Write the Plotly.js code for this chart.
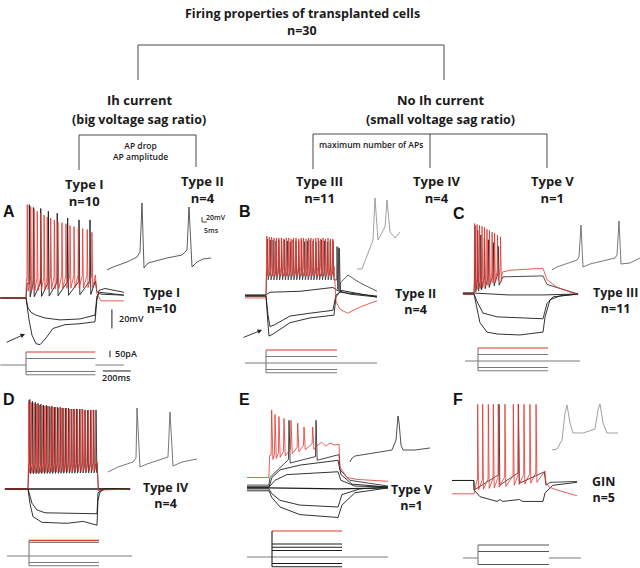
<!DOCTYPE html>
<html><head><meta charset="utf-8">
<script src="https://cdn.plot.ly/plotly-3.0.1.min.js"></script>
<style>html,body{margin:0;padding:0;background:#fff}#chart{width:640px;height:568px}</style>
</head><body><div id="chart"></div>
<script>
// ================= DATA =================
// --- decision tree ---
const treeTitle = "Firing properties of transplanted cells";
const totalN = 30;
const groupNames = ["Ih current", "No Ih current"];
const groupNotes = ["(big voltage sag ratio)", "(small voltage sag ratio)"];
const splitCriteria = ["AP drop<br>AP amplitude", "maximum number of APs"];
const typeNames = ["Type I", "Type II", "Type III", "Type IV", "Type V"];
const typeCounts = [10, 4, 11, 4, 1];
const typeGroup = [0, 0, 1, 1, 1];
// --- panels ---
const panelLetters = ["A", "B", "C", "D", "E", "F"];
const panelTypes = ["Type I", "Type II", "Type III", "Type IV", "Type V", "GIN"];
const panelN = [10, 4, 11, 4, 1, 5];
const stepMs = 500;
const scaleMV = 20, scaleMS = 200, scalePA = 50, insetMV = 20, insetMS = 5;

// Panel A (time ms, voltage mV)
const A_red_spT = [9,34,58,81,106,130,153,178,204,230,259,288,317,346,377,408,441,475];
const A_red_spV = [38,36,34,31,29,27,25,24,22,20,19,18,16,15,14,13,12,9];
const A_red_bgT = [-185,0,3,250,500,510,540,705];
const A_red_bgV = [-60,-60,-40,-37,-36,-55,-63,-63];
const A_blk_spT = [24,53,106,161,225,300,382,461];
const A_blk_spV = [38,35,34,31,29,24,22,22];
const A_blk_bgT = [-185,0,8,500,510,540,705];
const A_blk_bgV = [-60,-60,-45,-42,-53,-56,-57];
const A_hyp1_t = [-185,0,14,36,72,137,245,389,497,511,533,605,705];
const A_hyp1_v = [-60,-60,-70,-75,-78,-81,-83,-82,-78,-58,-54,-55,-57];
const A_hyp2_t = [-185,0,22,43,72,101,144,194,281,389,497,511,526,569,705];
const A_hyp2_v = [-60,-60,-83,-99,-108,-109,-102,-92,-88,-87,-85,-62,-52,-50,-54];
const A_ins_t = [0,6,20,30,33,35,37,41,60,75,80,82,85,90,96,104];
const A_ins_v = [-60,-48,-28,-8,12,208,-52,-32,-12,0,20,192,-48,-28,-16,-12];
const A_cur_red = [100], A_cur_gray = [50,-50,-75];

// Panel B
const B_red_spT = [6,24,41,59,77,95,113,131,149,167,185,203,221,240,258,276,294,312,330,348,366,384,402,420,438,456,474,491];
const B_red_spV = [4,3,3,2,2,2,2,1,2,2,1,2,2,1,2,2,1,2,2,1,2,2,1,2,1,2,1,1];
const B_red_bgT = [-154,0,3,500,515,545,600,700,816];
const B_red_bgV = [-61,-61,-28,-28,-65,-73,-77,-70,-64];
const B_blk_spT = [10,31,52,73,94,115,136,157,178,199,220,241,262,283,304,325,346,367,388,409,430,451,472,493,522,531,540];
const B_blk_spV = [1,0,0,-1,0,-1,0,-1,-2,0,-1,-1,0,-2,-1,0,-1,-2,-1,0,-1,-2,-1,-1,-7,-8,-9];
const B_blk_bgT = [-154,0,5,500,518,548,603,690,816];
const B_blk_bgV = [-58,-58,-33,-33,-42,-45,-37,-45,-54];
const B_zero_t = [-154,0,29,250,492,522,617,816];
const B_zero_v = [-58,-58,-55,-54,-50,-53,-57,-60];
const B_hyp1_t = [-154,0,15,29,66,176,323,492,514,544,816];
const B_hyp1_v = [-59,-59,-79,-91,-89,-80,-77,-74,-58,-55,-59];
const B_hyp2_t = [-154,0,15,22,51,176,323,500,514,551,816];
const B_hyp2_v = [-59,-59,-89,-101,-99,-87,-82,-79,-60,-53,-60];
const B_ins_t = [0,5,16,18,21,28,30,33,38,43];
const B_ins_v = [-60,-60,56,224,56,108,216,88,64,88];
const B_cur_red = [100], B_cur_gray = [50,-50,-75];

// Panel C
const C_red_spT = [4,22,40,58,76,94,112,131,149,170,192];
const C_red_spV = [14,13,12,11,10,8,7,5,4,2,0];
const C_red_bgT = [-80,0,3,100,192,205,261,500,529,602,754];
const C_red_bgV = [-60,-60,-45,-39,-33,-37,-35,-33,-45,-53,-61];
const C_blk_spT = [7,27,49,75,104,140,176];
const C_blk_spV = [12,7,2,-1,-3,-6,-10];
const C_blk_bgT = [-80,0,4,176,210,500,529,754];
const C_blk_bgV = [-59,-59,-46,-38,-42,-41,-50,-60];
const C_zero_t = [-80,0,250,500,754];
const C_zero_v = [-59,-59,-61,-61,-60];
const C_hyp1_t = [-80,0,22,65,167,500,529,573,754];
const C_hyp1_v = [-60,-60,-68,-80,-84,-86,-70,-63,-60];
const C_hyp2_t = [-80,0,43,94,167,333,500,515,551,624,754];
const C_hyp2_v = [-60,-60,-90,-100,-102,-103,-100,-84,-66,-62,-60];
const C_ins_t = [0,5,25,27,29,31,38,63,65,67,69,78,88];
const C_ins_v = [-60,-48,-20,-8,120,-48,-36,-12,0,136,-36,-32,-12];
const C_cur_red = [100], C_cur_gray = [50,-50,-75];

// Panel D
const D_red_spT = [5,24,44,63,83,102,122,141,161,181,200,220,240,259,279,299,318,338,358,378,397,417,437,457,477];
const D_red_spV = [33,31,30,29,28,28,27,27,26,26,26,25,25,25,25,24,24,24,24,24,23,23,23,23,23];
const D_red_bgT = [-167,0,3,500,510,540,740];
const D_red_bgV = [-60,-60,-33,-31,-62,-61,-60];
const D_blk_spT = [13,33,53,73,93,113,133,153,173,193,213,233,253,273,293,313,333,353,373,393,413,433,453,473,493];
const D_blk_spV = [34,32,31,30,29,28,28,27,27,26,26,26,25,25,25,24,24,24,24,24,23,23,23,23,23];
const D_blk_bgT = [-167,0,6,500,510,540,740];
const D_blk_bgV = [-60,-60,-34,-33,-60,-60,-60];
const D_zero_t = [-167,740];
const D_zero_v = [-60,-60];
const D_hyp1_t = [-167,0,29,65,123,500,507,543,740];
const D_hyp1_v = [-60,-60,-75,-82,-85,-86,-64,-60,-60];
const D_hyp2_t = [-167,0,14,36,101,283,400,500,507,522,558,740];
const D_hyp2_v = [-60,-60,-75,-89,-95,-96,-94,-98,-72,-63,-60,-60];
const D_ins_t = [0,10,25,28,29,32,39,57,60,62,65,74,89];
const D_ins_v = [-60,-40,-20,-4,196,-40,-28,-4,0,180,-36,-20,-8];
const D_cur_red = [120], D_cur_gray = [105,-50,-75];

// Panel E
const E_red_spT = [19,43,71,107,157,205,250,312];
const E_red_spV = [21,16,14,12,10,7,3,3];
const E_red_bgT = [-157,-1,5,100,300,340,376,405,436,470,500,507,557,628,850];
const E_red_bgV = [-50,-50,-27,-23,-14,-17,-13,-17,-14,-16,-15,-39,-50,-52,-54];
const E_blk_spT = [143,336];
const E_blk_spV = [10,10];
const E_blk_bgT = [-157,-1,7,140,335,500,507,578,850];
const E_blk_bgV = [-58,-58,-50,-31,-28,-26,-42,-53,-59];
const E_dep1_t = [-157,0,21,79,221,493,514,593,850];
const E_dep1_v = [-60,-60,-50,-42,-37,-32,-47,-57,-60];
const E_dep2_t = [-157,0,43,128,493,514,614,850];
const E_dep2_v = [-60,-60,-53,-47,-44,-53,-59,-60];
const E_zero_t = [-157,0,500,850];
const E_zero_v = [-61,-61,-62,-61];
const E_hyp1_t = [-157,0,20,79,221,493,521,650,850];
const E_hyp1_v = [-62,-62,-67,-74,-79,-81,-68,-62,-60];
const E_hyp2_t = [-157,0,20,79,221,493,521,614,850];
const E_hyp2_v = [-64,-64,-71,-81,-89,-92,-79,-66,-61];
const E_ins_t = [0,2,5,42,46,47.5,48,49,51,53,65,80];
const E_ins_v = [-60,-44,-36,-12,28,108,124,100,8,-12,-12,-4];
const E_cur_red = [200], E_cur_blk = [100,75,50,-50,-75];

// Panel F
const F_red_spT = [26,61,101,136,171,218,277,312,352,394,437];
const F_red_spV = [30,30,30,30,30,30,30,30,30,30,30];
const F_red_bgT = [-155,0,20,440,500,507,530,584,725];
const F_red_bgV = [-64,-64,-50,-42,-40,-52,-57,-60,-66];
const F_blk_spT = [176,313];
const F_blk_spV = [30,30];
const F_blk_bgT = [-155,-1,1,172,310,495,507,535,725];
const F_blk_bgV = [-50,-50,-60,-44,-42,-41,-55,-52,-51];
const F_hyp_t = [-155,-1,1,42,162,183,200,320,340,486,500,556,725];
const F_hyp_v = [-50,-50,-60,-67,-72,-70,-72,-70,-72,-72,-63,-55,-52];
const F_ins_t = [0,5,10,13,15,18,21,31,43,46,48,51,55,66];
const F_ins_v = [-60,-56,-20,88,120,48,8,8,24,100,124,48,8,8];
const F_cur_gray = [100,50,-50];

// ================= STYLE / LAYOUT =================
const W = 640, H = 568;
const RED = '#e4342c', BLK = '#1c1c1c', GRY = '#7a7a7a';
const FONT = 'Open Sans, Lato, sans-serif';
const traces = [];
const layout = {width: W, height: H, margin: {l:0, r:0, t:0, b:0}, paper_bgcolor: '#fff',
  plot_bgcolor: 'rgba(0,0,0,0)', showlegend: false, annotations: [], hovermode: false};
let axN = 0;
function addAxes(box, m) {
  axN++;
  const xk = axN === 1 ? 'xaxis' : 'xaxis' + axN, yk = axN === 1 ? 'yaxis' : 'yaxis' + axN;
  const xn = axN === 1 ? 'x' : 'x' + axN, yn = axN === 1 ? 'y' : 'y' + axN;
  const xr = [(box[0] - m.xon) * m.sx, (box[1] - m.xon) * m.sx];
  const yr = [m.vref - (box[3] - m.yref) * m.sy, m.vref + (m.yref - box[2]) * m.sy];
  layout[xk] = {domain: [box[0] / W, box[1] / W], range: xr, visible: false, fixedrange: true, anchor: yn};
  layout[yk] = {domain: [1 - box[3] / H, 1 - box[2] / H], range: yr, visible: false, fixedrange: true, anchor: xn};
  return {x: xn, y: yn};
}
function line(ax, x, y, color, width) {
  traces.push({type: 'scatter', mode: 'lines', x: x, y: y, xaxis: ax.x, yaxis: ax.y,
    line: {color: color, width: width || 0.9}, hoverinfo: 'skip', showlegend: false});
}
function interp(T, V, t) {
  if (t <= T[0]) return V[0];
  for (let i = 1; i < T.length; i++) if (t <= T[i]) { const f = (t - T[i-1]) / (T[i] - T[i-1]); return V[i-1] + f * (V[i] - V[i-1]); }
  return V[V.length - 1];
}
function train(bgT, bgV, spT, spV, ahp, rise, fall) {
  const pts = [];
  const first = spT[0] - rise, last = spT[spT.length - 1] + fall;
  bgT.forEach((t, i) => { if (t < first || t > last) pts.push([t, bgV[i]]); });
  spT.forEach((t, i) => {
    pts.push([t - rise, interp(bgT, bgV, t - rise)]);
    pts.push([t, spV[i]]);
    pts.push([t + fall, interp(bgT, bgV, t + fall) - ahp]);
  });
  pts.sort((p, q) => p[0] - q[0]);
  return {x: pts.map(p => p[0]), y: pts.map(p => p[1])};
}
function ann(px, py, text, size, opts) {
  opts = opts || {};
  layout.annotations.push(Object.assign({xref: 'paper', yref: 'paper', x: px / W, y: 1 - py / H, text: text,
    showarrow: false, xanchor: 'center', yanchor: 'middle',
    font: {family: FONT, size: size, color: '#1a1a1a', weight: opts.weight || 700}}, opts.extra || {}));
}
function axText(ax, x, y, text, size, xanchor) {
  layout.annotations.push({xref: ax.x, yref: ax.y, x: x, y: y, text: text, showarrow: false,
    xanchor: xanchor || 'left', yanchor: 'middle', font: {family: FONT, size: size, color: '#1a1a1a', weight: 600}});
}
function currents(ax, tStart, tEnd, levels, colors, gap) {
  if (gap) line(ax, [tStart, 0, null, stepMs, tEnd], [0, 0, null, 0, 0], GRY, 1);
  else line(ax, [tStart, tEnd], [0, 0], GRY, 1);
  const lo = Math.min(0, ...levels), hi = Math.max(0, ...levels);
  levels.forEach((L, i) => line(ax, [0, stepMs], [L, L], colors[i], 1.1));
  line(ax, [0, 0], [lo, hi], colors.length && colors[1] === BLK ? BLK : GRY, 1.1);
}
const V_SC = 1.05, I_SC = 7.7, INS_V = 4, INS_T = 1;

// ================= TREE =================
const TREE = {titleX: 302, titleY: 13, nY: 30, barY: 45, groupX: [138, 444], groupBotY: 80,
  groupTextX: [139, 440], groupTextY: [100, 119], subBarY: [135, 134],
  typeX: [79, 196, 313, 430, 547], typeEndY: [170, 167, 169, 168, 168],
  typeLabelX: [84, 202, 319, 437, 552], typeLabelY: [192, 189, 189, 189, 189],
  critX: [140, 371], critY: [151, 144], critSize: [8.5, 8.5]};
const tax = addAxes([0, 640, 0, 210], {xon: 0, sx: 1, yref: 0, vref: 0, sy: -1});
line(tax, [TREE.groupX[0], TREE.groupX[0], TREE.groupX[1], TREE.groupX[1]],
  [TREE.groupBotY, TREE.barY, TREE.barY, TREE.groupBotY], '#333', 0.9);
groupNames.forEach((g, gi) => {
  const xs = TREE.typeX.filter((_, i) => typeGroup[i] === gi);
  line(tax, [Math.min(...xs), Math.max(...xs)], [TREE.subBarY[gi], TREE.subBarY[gi]], '#333', 0.9);
});
typeNames.forEach((n, i) => line(tax, [TREE.typeX[i], TREE.typeX[i]], [TREE.subBarY[typeGroup[i]], TREE.typeEndY[i]], '#333', 0.9));
ann(TREE.titleX, TREE.titleY, treeTitle, 12.5);
ann(TREE.titleX, TREE.nY, 'n=' + totalN, 12.5);
groupNames.forEach((g, i) => {
  ann(TREE.groupTextX[i], TREE.groupTextY[0], g, 13);
  ann(TREE.groupTextX[i], TREE.groupTextY[1], groupNotes[i], 12.5);
  ann(TREE.critX[i], TREE.critY[i], splitCriteria[i], TREE.critSize[i], {weight: 600});
});
typeNames.forEach((n, i) => {
  ann(TREE.typeLabelX[i], TREE.typeLabelY[i], n + '<br>n=' + typeCounts[i], 13);
});

// ================= PANELS =================
function panel(cfg) {
  const vax = addAxes(cfg.vbox, {xon: cfg.von, sx: stepMs / cfg.vlen, yref: cfg.vref, vref: -60, sy: V_SC});
  cfg.v.forEach(tr => {
    if (tr.bgT) { const w = train(tr.bgT, tr.bgV, tr.spT, tr.spV, tr.ahp, tr.rise || 2, tr.fall || 6); line(vax, w.x, w.y, tr.c, tr.w || 0.8); }
    else line(vax, tr.t, tr.v, tr.c, tr.w || 0.9);
  });
  const iax = addAxes(cfg.ibox, {xon: cfg.ion, sx: stepMs / cfg.ilen, yref: cfg.iref, vref: 0, sy: I_SC});
  currents(iax, cfg.iT[0], cfg.iT[1], cfg.iL, cfg.iC, cfg.gap);
  const sax = addAxes(cfg.sbox, {xon: cfg.son, sx: INS_T, yref: cfg.sref, vref: -60, sy: INS_V});
  line(sax, cfg.s.t, cfg.s.v, cfg.s.c, 0.8);
  return {vax, iax, sax};
}

const pA = panel({vbox: [0, 140, 195, 352], von: 26, vlen: 69.4, vref: 298,
  v: [{bgT: A_blk_bgT, bgV: A_blk_bgV, spT: A_blk_spT, spV: A_blk_spV, ahp: 14, c: BLK, w: 0.9},
      {t: A_hyp1_t, v: A_hyp1_v, c: BLK}, {t: A_hyp2_t, v: A_hyp2_v, c: BLK},
      {bgT: A_red_bgT, bgV: A_red_bgV, spT: A_red_spT, spV: A_red_spV, ahp: 13, c: RED}],
  ibox: [0, 145, 345, 385], ion: 26, ilen: 69.4, iref: 365, iT: [-185, 705],
  iL: A_cur_red.concat(A_cur_gray), iC: [RED, GRY, GRY, GRY], gap: true,
  sbox: [104, 216, 198, 275], son: 107, sref: 270, s: {t: A_ins_t, v: A_ins_v, c: '#333'}});
// scale bars (panel A)
line(pA.vax, [619, 619], [-92, -92 + scaleMV], BLK, 1);
axText(pA.vax, 655, -82, scaleMV + 'mV', 9);
line(pA.iax, [605, 605], [60, 60 + scalePA], BLK, 1);
axText(pA.iax, 628, 85, scalePA + 'pA', 9);
line(pA.iax, [554, 554 + scaleMS], [-46, -46], BLK, 1);
axText(pA.iax, 654, -100, scaleMS + 'ms', 9, 'center');
line(pA.sax, [95, 95, 95 + insetMS], [132 + insetMV, 132, 132], BLK, 0.8);
axText(pA.sax, 97, 150, insetMV + 'mV', 7);
axText(pA.sax, 94.5, 100, insetMS + 'ms', 7);

panel({vbox: [240, 385, 225, 350], von: 266, vlen: 68, vref: 297,
  v: [{bgT: B_blk_bgT, bgV: B_blk_bgV, spT: B_blk_spT, spV: B_blk_spV, ahp: 9, c: '#333'},
      {t: B_zero_t, v: B_zero_v, c: BLK}, {t: B_hyp1_t, v: B_hyp1_v, c: BLK}, {t: B_hyp2_t, v: B_hyp2_v, c: BLK},
      {bgT: B_red_bgT, bgV: B_red_bgV, spT: B_red_spT, spV: B_red_spV, ahp: 10, c: RED}],
  ibox: [240, 385, 342, 380], ion: 266, ilen: 71, iref: 363, iT: [-148, 782],
  iL: B_cur_red.concat(B_cur_gray), iC: [RED, GRY, GRY, GRY], gap: false,
  sbox: [354, 405, 193, 273], son: 357, sref: 269, s: {t: B_ins_t, v: B_ins_v, c: '#888'}});

panel({vbox: [455, 590, 215, 345], von: 474, vlen: 69, vref: 294,
  v: [{bgT: C_blk_bgT, bgV: C_blk_bgV, spT: C_blk_spT, spV: C_blk_spV, ahp: 12, c: BLK},
      {t: C_zero_t, v: C_zero_v, c: BLK}, {t: C_hyp1_t, v: C_hyp1_v, c: BLK}, {t: C_hyp2_t, v: C_hyp2_v, c: BLK},
      {bgT: C_red_bgT, bgV: C_red_bgV, spT: C_red_spT, spV: C_red_spV, ahp: 12, c: RED}],
  ibox: [455, 590, 342, 378], ion: 478, ilen: 70, iref: 361, iT: [-93, 729],
  iL: C_cur_red.concat(C_cur_gray), iC: [RED, GRY, GRY, GRY], gap: false,
  sbox: [549, 640, 215, 273], son: 552, sref: 270, s: {t: C_ins_t, v: C_ins_v, c: '#555'}});

panel({vbox: [0, 140, 395, 535], von: 28, vlen: 69, vref: 489,
  v: [{t: D_zero_t, v: D_zero_v, c: BLK, w: 1.6},
      {bgT: D_blk_bgT, bgV: D_blk_bgV, spT: D_blk_spT, spV: D_blk_spV, ahp: 10, c: BLK},
      {t: D_hyp1_t, v: D_hyp1_v, c: BLK}, {t: D_hyp2_t, v: D_hyp2_v, c: BLK},
      {bgT: D_red_bgT, bgV: D_red_bgV, spT: D_red_spT, spV: D_red_spV, ahp: 10, c: RED}],
  ibox: [0, 140, 533, 568], ion: 29, ilen: 70, iref: 556, iT: [-157, 736],
  iL: D_cur_red.concat(D_cur_gray), iC: [RED, GRY, GRY, GRY], gap: false,
  sbox: [105, 200, 403, 476], son: 108, sref: 472, s: {t: D_ins_t, v: D_ins_v, c: '#555'}});

panel({vbox: [240, 395, 400, 525], von: 269, vlen: 70, vref: 487,
  v: [{t: E_zero_t, v: E_zero_v, c: BLK, w: 1.2}, {t: E_dep1_t, v: E_dep1_v, c: BLK}, {t: E_dep2_t, v: E_dep2_v, c: BLK},
      {t: E_hyp1_t, v: E_hyp1_v, c: BLK}, {t: E_hyp2_t, v: E_hyp2_v, c: BLK},
      {bgT: E_blk_bgT, bgV: E_blk_bgV, spT: E_blk_spT, spV: E_blk_spV, ahp: 4, rise: 4, fall: 8, c: BLK},
      {bgT: E_red_bgT, bgV: E_red_bgV, spT: E_red_spT, spV: E_red_spV, ahp: 5, rise: 4, fall: 9, c: RED}],
  ibox: [240, 395, 522, 568], ion: 272, ilen: 70, iref: 557, iT: [-179, 829],
  iL: E_cur_red.concat(E_cur_blk), iC: [RED, BLK, BLK, BLK, BLK, BLK], gap: false,
  sbox: [347, 432, 410, 466], son: 350, sref: 462, s: {t: E_ins_t, v: E_ins_v, c: '#222'}});

panel({vbox: [445, 590, 398, 515], von: 474, vlen: 71, vref: 490,
  v: [{t: F_hyp_t, v: F_hyp_v, c: BLK},
      {bgT: F_blk_bgT, bgV: F_blk_bgV, spT: F_blk_spT, spV: F_blk_spV, ahp: 11, c: BLK},
      {bgT: F_red_bgT, bgV: F_red_bgV, spT: F_red_spT, spV: F_red_spV, ahp: 10, c: RED}],
  ibox: [445, 590, 538, 568], ion: 478, ilen: 71, iref: 558, iT: [-106, 725],
  iL: F_cur_gray, iC: ['#555', '#555', '#555'], gap: true,
  sbox: [549, 622, 400, 454], son: 552, sref: 450, s: {t: F_ins_t, v: F_ins_v, c: '#888'}});

// panel letters and type labels
const LETTER_POS = [[1, 212], [237, 212], [451, 213], [1, 399], [237, 399], [451, 399]];
const TYPE_POS = [[161, 300], [415, 301], [615, 300], [166, 495], [412, 497], [603, 489]];
panelLetters.forEach((L, i) => {
  layout.annotations.push({xref: 'paper', yref: 'paper', x: LETTER_POS[i][0] / W, y: 1 - LETTER_POS[i][1] / H,
    text: '<b>' + L + '</b>', showarrow: false, xanchor: 'left', yanchor: 'middle',
    font: {family: 'Liberation Sans, Arial, sans-serif', size: 16, color: '#111'}});
  ann(TYPE_POS[i][0], TYPE_POS[i][1], panelTypes[i] + '<br>n=' + panelN[i], 12.5, {weight: 700});
});
// sag arrows
const ARROWS = [[25, 334, -20, 9], [262, 330, -20, 8]];
ARROWS.forEach(a => layout.annotations.push({xref: 'paper', yref: 'paper', x: a[0] / W, y: 1 - a[1] / H,
  ax: a[2], ay: a[3], text: '', showarrow: true, arrowhead: 2, arrowsize: 1, arrowwidth: 0.9, arrowcolor: '#222', standoff: 0}));

Plotly.newPlot('chart', traces, layout, {staticPlot: true, displayModeBar: false});
</script></body></html>
